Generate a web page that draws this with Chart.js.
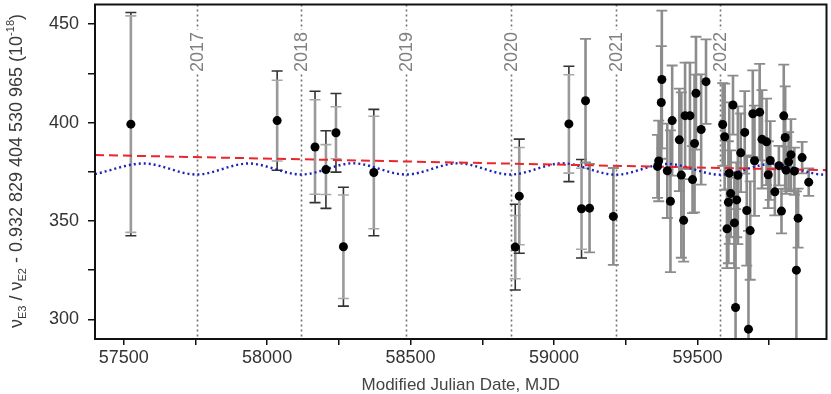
<!DOCTYPE html>
<html>
<head>
<meta charset="utf-8">
<script src="https://cdn.jsdelivr.net/npm/chart.js@4.4.1/dist/chart.umd.min.js"></script>
<style>
  html, body { margin: 0; padding: 0; background: #fff; }
</style>
</head>
<body>
<canvas id="myChart" width="831" height="394"></canvas>
<script>
// measurements: MJD, value, statistical and total uncertainty
const mjd = [57525, 58035, 58167, 58205, 58240, 58266, 58372, 58865, 58879, 59052, 59096, 59110, 59124, 59207,
  59361, 59365, 59374, 59376, 59395, 59406, 59412, 59437, 59444, 59452, 59457, 59474, 59483, 59490, 59495, 59513, 59530,
  59588, 59595, 59603, 59608, 59611, 59616, 59624, 59629, 59633, 59637, 59641, 59651, 59665, 59672, 59678, 59684,
  59693, 59699, 59717, 59725, 59741, 59747, 59754, 59770, 59784, 59793, 59801, 59806, 59809, 59818, 59826, 59838,
  59845, 59851, 59865, 59888]
const val = [399.2, 401.0, 387.6, 376.1, 394.8, 336.9, 374.6, 336.7, 362.6, 399.3, 356.2, 411.1, 356.5, 352.3,
  377.7, 380.5, 410.2, 421.9, 375.5, 360.0, 401.0, 391.2, 373.3, 350.3, 403.5, 403.5, 371.0, 389.4, 414.9, 396.5, 420.8,
  399.0, 392.8, 346.0, 359.5, 374.3, 363.9, 408.9, 349.0, 306.0, 360.7, 373.2, 384.6, 395.0, 355.3, 295.0, 345.1,
  404.5, 380.6, 405.3, 391.5, 390.2, 373.5, 380.7, 364.8, 378.1, 355.0, 403.4, 392.4, 375.8, 380.1, 383.7, 375.3,
  325.0, 351.4, 382.2, 369.7]
const errStat = [55, 20.5, 24, 12.7, 13.2, 26.3, 28.6, 16.1, 24.7, 25, 20.6, 31.4, 22.5, 24.6,
  16, 20.5, 28.6, 35, 24, 36, 28, 26, 42, 21, 27, 27, 17, 35, 28.7, 28, 21.5,
  21, 27, 20, 31, 36, 22, 15, 23, 50, 19, 35, 20, 21, 28, 50, 25,
  22, 28, 24.5, 25, 22, 17, 20, 12, 10, 11.3, 26, 26, 12, 15, 18, 12,
  40, 15, 8, 7]
const errTot = [56.7, 25.2, 28.3, 19.7, 20, 30.2, 32.1, 21.8, 29, 29.3, 25, 31.4, 22.5, 24.6]

// model curves
const trendX = [57400, 59950]
const trendY = [383.5, 375.8]
const modX = [57400, 57570, 57754, 57935, 58119, 58300, 58484, 58665, 58849, 59030, 59215, 59395, 59580, 59760, 59945, 59950]
const modY = [373.8, 379.2, 373.6, 379.2, 373.6, 379.3, 373.6, 379.3, 373.6, 379.3, 373.5, 379.0, 373.5, 379.0, 373.5, 373.5]

// year boundaries
const yearMjd = [57754, 58119, 58484, 58849, 59215, 59580]
const yearLabels = ['2017', '2018', '2019', '2020', '2021', '2022']

const xTicks = [57500, 57750, 58000, 58250, 58500, 58750, 59000, 59250, 59500, 59750]
const yTicks = [300, 325, 350, 375, 400, 425, 450]

const FONT = "'Liberation Sans', Arial, sans-serif"

const extras = {
  id: 'extras',
  beforeDatasetsDraw(chart) {
    const { ctx, chartArea: a, scales: { x, y } } = chart
    ctx.save()
    ctx.beginPath()
    ctx.rect(a.left, a.top, a.width, a.height)
    ctx.clip()

    // year lines + labels
    yearMjd.forEach((m, i) => {
      const px = Math.round(x.getPixelForValue(m)) + 0.5
      ctx.strokeStyle = '#707070'
      ctx.lineWidth = 1.6
      ctx.setLineDash([2, 3])
      ctx.beginPath()
      ctx.moveTo(px, a.top)
      ctx.lineTo(px, a.bottom)
      ctx.stroke()
      ctx.setLineDash([])
      ctx.save()
      ctx.translate(px + 1, 52)
      ctx.rotate(-Math.PI / 2)
      ctx.font = '18px ' + FONT
      const w = ctx.measureText(yearLabels[i]).width
      ctx.fillStyle = '#fff'
      ctx.fillRect(-w / 2 - 2, -9, w + 4, 16)
      ctx.fillStyle = '#808080'
      ctx.textAlign = 'center'
      ctx.textBaseline = 'middle'
      ctx.fillText(yearLabels[i], 0, 0)
      ctx.restore()
    })

    // error bars
    const cap = 5.5
    mjd.forEach((m, i) => {
      const px = x.getPixelForValue(m)
      const s = errStat[i]
      const t = errTot[i] !== undefined ? errTot[i] : s
      const sTop = y.getPixelForValue(val[i] + s)
      const sBot = y.getPixelForValue(val[i] - s)
      if (t > s) {
        const tTop = y.getPixelForValue(val[i] + t)
        const tBot = y.getPixelForValue(val[i] - t)
        ctx.strokeStyle = '#333'
        ctx.lineWidth = 1.6
        ctx.beginPath()
        ctx.moveTo(px, tTop); ctx.lineTo(px, sTop)
        ctx.moveTo(px, sBot); ctx.lineTo(px, tBot)
        ctx.moveTo(px - cap, tTop); ctx.lineTo(px + cap, tTop)
        ctx.moveTo(px - cap, tBot); ctx.lineTo(px + cap, tBot)
        ctx.stroke()
        ctx.strokeStyle = '#9a9a9a'
        ctx.lineWidth = 2.6
        ctx.beginPath()
        ctx.moveTo(px, sTop); ctx.lineTo(px, sBot)
        ctx.stroke()
        ctx.strokeStyle = '#a8a8a8'
        ctx.lineWidth = 1.6
        ctx.beginPath()
        ctx.moveTo(px - cap, sTop); ctx.lineTo(px + cap, sTop)
        ctx.moveTo(px - cap, sBot); ctx.lineTo(px + cap, sBot)
        ctx.stroke()
      } else {
        ctx.strokeStyle = '#8c8c8c'
        ctx.lineWidth = 2.6
        ctx.beginPath()
        ctx.moveTo(px, sTop); ctx.lineTo(px, sBot)
        ctx.stroke()
        ctx.lineWidth = 1.8
        ctx.beginPath()
        ctx.moveTo(px - cap, sTop); ctx.lineTo(px + cap, sTop)
        ctx.moveTo(px - cap, sBot); ctx.lineTo(px + cap, sBot)
        ctx.stroke()
      }
    })
    ctx.restore()
  },
  afterDraw(chart) {
    const { ctx, chartArea: a } = chart
    ctx.save()
    // frame
    ctx.strokeStyle = '#111'
    ctx.lineWidth = 2
    ctx.strokeRect(a.left, a.top, a.width, a.height)

    // x title
    ctx.fillStyle = '#444'
    ctx.font = '17px ' + FONT
    ctx.textAlign = 'center'
    ctx.textBaseline = 'alphabetic'
    ctx.fillText('Modified Julian Date, MJD', (a.left + a.right) / 2, 390)

    // y title with sub/superscripts
    const parts = [
      ['ν', 18, 0], ['E3', 11, 4], [' / ν', 18, 0], ['E2', 11, 4],
      [' - 0.932 829 404 530 965 (10', 18, 0], ['-18', 11, -8], [')', 18, 0]
    ]
    let total = 0
    parts.forEach(p => { ctx.font = p[1] + 'px ' + FONT; total += ctx.measureText(p[0]).width })
    ctx.translate(16, 171)
    ctx.rotate(-Math.PI / 2)
    ctx.fillStyle = '#3a3a3a'
    ctx.textAlign = 'left'
    let cx = -total / 2
    parts.forEach(p => {
      ctx.font = p[1] + 'px ' + FONT
      ctx.fillText(p[0], cx, 6 + p[2])
      cx += ctx.measureText(p[0]).width
    })
    ctx.restore()
  }
}

new Chart('myChart', {
  type: 'scatter',
  data: {
    datasets: [{
      data: mjd.map((m, i) => ({ x: m, y: val[i] })),
      backgroundColor: '#000',
      borderWidth: 0,
      pointRadius: 4.5,
      order: 0
    }, {
      type: 'line',
      data: trendX.map((m, i) => ({ x: m, y: trendY[i] })),
      borderColor: '#e8262b',
      borderWidth: 2,
      borderDash: [9, 5],
      pointRadius: 0,
      order: 1
    }, {
      type: 'line',
      data: modX.map((m, i) => ({ x: m, y: modY[i] })),
      borderColor: '#1a22b8',
      borderWidth: 2.4,
      borderDash: [2, 3],
      cubicInterpolationMode: 'monotone',
      pointRadius: 0,
      order: 2
    }]
  },
  options: {
    responsive: false,
    animation: false,
    layout: { padding: { top: 2, right: 3, left: 0, bottom: 0 } },
    plugins: { legend: { display: false }, tooltip: { enabled: false } },
    scales: {
      x: {
        type: 'linear',
        min: 57400,
        max: 59950,
        afterBuildTicks: s => { s.ticks = xTicks.map(v => ({ value: v })) },
        afterFit: s => { s.height = 55; s.paddingLeft = 0; s.paddingRight = 0 },
        grid: { drawOnChartArea: false, drawTicks: true, tickLength: 6, color: '#111', lineWidth: 1.5 },
        border: { display: false },
        ticks: {
          autoSkip: false,
          maxRotation: 0,
          padding: 2,
          color: '#333',
          font: { family: FONT, size: 18 },
          callback: v => (v % 500 === 0 ? String(v) : '')
        }
      },
      y: {
        min: 290,
        max: 460,
        afterBuildTicks: s => { s.ticks = yTicks.map(v => ({ value: v })) },
        afterFit: s => { s.width = 95; s.paddingTop = 0; s.paddingBottom = 0 },
        grid: { drawOnChartArea: false, drawTicks: true, tickLength: 7, color: '#111', lineWidth: 1.5 },
        border: { display: false },
        ticks: {
          autoSkip: false,
          padding: 9,
          color: '#333',
          font: { family: FONT, size: 18 },
          callback: v => (v % 50 === 0 ? String(v) : '')
        }
      }
    }
  },
  plugins: [extras]
})
</script>
</body>
</html>
